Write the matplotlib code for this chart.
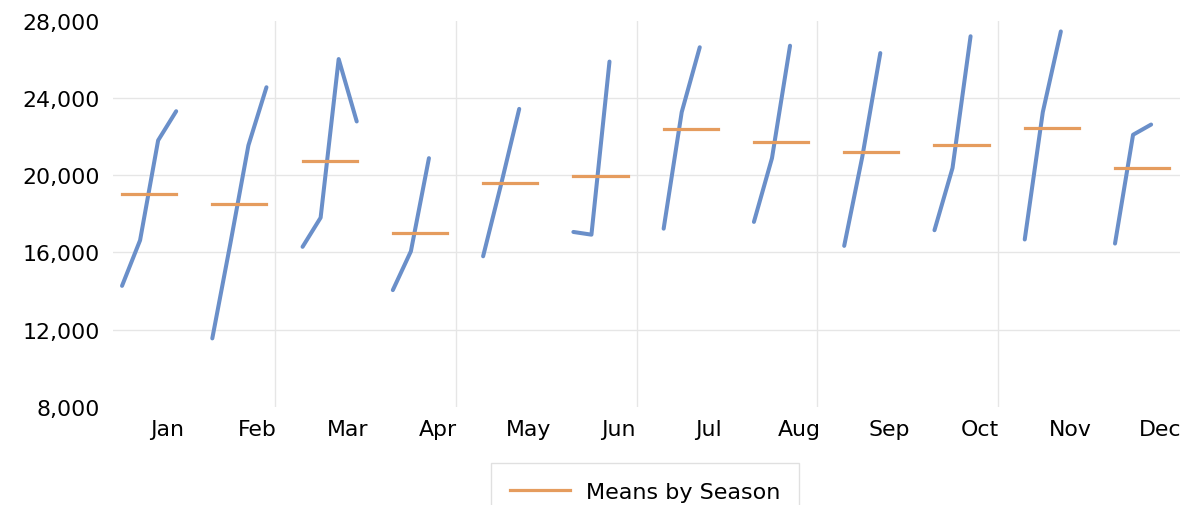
import numpy as np
import matplotlib.pyplot as plt

months = ['Jan', 'Feb', 'Mar', 'Apr', 'May', 'Jun',
          'Jul', 'Aug', 'Sep', 'Oct', 'Nov', 'Dec']

# values per season (one point per year)
jan = [14270, 16630, 21800, 23310]
feb = [11550, 16460, 21540, 24550]
mar = [16290, 17800, 26010, 22780]
apr = [14050, 16060, 20880]
may = [15800, 19540, 23430]
jun = [17060, 16920, 25880]
jul = [17230, 23260, 26620]
aug = [17580, 20880, 26700]
sep = [16340, 20940, 26320]
oct_ = [17150, 20370, 27190]
nov = [16670, 23260, 27440]
dec = [16460, 22090, 22620]
seasons = [jan, feb, mar, apr, may, jun, jul, aug, sep, oct_, nov, dec]

y_ticks = [8000, 12000, 16000, 20000, 24000, 28000]

blue = '#6a8fc9'
orange = '#e59c5e'
step = 0.2          # spacing between years inside one season block
n_years = 4

plt.rcParams['font.family'] = ['DejaVu Sans']

fig = plt.figure(figsize=(11.97, 5.06), dpi=100)
ax = fig.add_axes([0.0944, 0.1937, 0.8914, 0.7636])

for k, vals in enumerate(seasons):
    xs = k + step * np.arange(len(vals))
    ax.plot(xs, vals, color=blue, lw=2.9, solid_capstyle='round',
            solid_joinstyle='round', zorder=3)
    m = np.mean(vals)
    ax.plot([k, k + step * (n_years - 1)], [m, m], color=orange, lw=2.3,
            solid_capstyle='projecting', zorder=4,
            label='Means by Season' if k == 0 else None)

ax.set_xlim(-0.1, 11.72)
ax.set_ylim(8000, 28000)

ax.set_yticks(y_ticks)
ax.set_yticklabels([f'{v:,}' for v in y_ticks])
ax.set_xticks(np.arange(len(months)) + 0.5)
ax.set_xticklabels(months)
ax.set_xticks(np.arange(1.7, 10, 2), minor=True)

ax.tick_params(axis='both', which='both', length=0, labelsize=15.8,
               colors='black')
ax.tick_params(axis='y', pad=9.5)
ax.tick_params(axis='x', pad=9)

ax.yaxis.grid(True, color='#e6e6e6', lw=1)
ax.xaxis.grid(True, which='minor', color='#e6e6e6', lw=1)
ax.xaxis.grid(False, which='major')
ygl = ax.get_ygridlines()
ygl[0].set_visible(False)
ygl[-1].set_visible(False)
ax.set_axisbelow(True)

for s in ax.spines.values():
    s.set_visible(False)

# legend sits at the bottom, its lower edge runs off the figure like the original
leg = fig.legend(loc='upper center', bbox_to_anchor=(0.539, 0.083),
                 fontsize=16, frameon=True, fancybox=False,
                 edgecolor='#d9d9d9', handlelength=2.7, handletextpad=0.7,
                 borderpad=0.85, borderaxespad=0)
leg.get_frame().set_linewidth(1)

fig.savefig('out.png', dpi=100)
